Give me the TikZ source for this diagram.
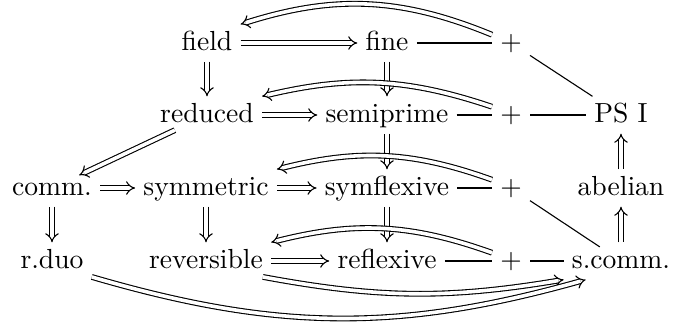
\documentclass[tikz,border=0pt]{standalone}
\usepackage{tikz}
\usetikzlibrary{arrows.meta}

\begin{document}
\begin{tikzpicture}[x=0.3623pt, y=-0.3623pt,
  every node/.style={inner sep=3pt, outer sep=0pt, text height=1.5ex, text depth=0.25ex},
  imp/.style={double, double distance=1.3pt, line width=0.4pt, -{Implies}},
  link/.style={line width=0.4pt}]
  \useasboundingbox (0,0) rectangle (674,326);

  % first row
  \node (field) at (207,43) {field};
  \node (fine) at (387,43) {fine};
  \node (plusA) at (511,43) {$+$};

  % second row
  \node (reduced) at (207,115) {reduced};
  \node (semiprime) at (387,115) {semiprime};
  \node (plusB) at (511,115) {$+$};
  \node (psi) at (621,115) {PS I};

  % third row
  \node (comm) at (52,188) {comm.};
  \node (symm) at (206,188) {symmetric};
  \node (symflex) at (387,188) {symflexive};
  \node (plusC) at (511,188) {$+$};
  \node (abelian) at (621,188) {abelian};

  % fourth row
  \node (rduo) at (52,261) {r.duo};
  \node (revers) at (206,261) {reversible};
  \node (reflex) at (387,261) {reflexive};
  \node (plusD) at (511,261) {$+$};
  \node (scomm) at (621,261) {s.comm.};

  % straight implications
  \draw[imp] (field) -- (fine);
  \draw[imp] (reduced) -- (semiprime);
  \draw[imp] (comm) -- (symm);
  \draw[imp] (symm) -- (symflex);
  \draw[imp] (revers) -- (reflex);
  \draw[imp] (field) -- (reduced);
  \draw[imp] (fine) -- (semiprime);
  \draw[imp] (semiprime) -- (symflex);
  \draw[imp] (symflex) -- (reflex);
  \draw[imp] (comm) -- (rduo);
  \draw[imp] (symm) -- (revers);
  \draw[imp] (abelian) -- (psi);
  \draw[imp] (scomm) -- (abelian);
  \draw[imp, shorten <=-3pt, shorten >=-5pt] (reduced) -- (comm);

  % the plus joins
  \draw[link] (fine) -- (plusA);
  \draw[link] (semiprime) -- (plusB);
  \draw[link] (plusB) -- (psi);
  \draw[link] (symflex) -- (plusC);
  \draw[link] (reflex) -- (plusD);
  \draw[link] (plusD) -- (scomm);
  \draw[link] (plusA) -- (psi);
  \draw[link, shorten >=-3pt] (plusC) -- (scomm);

  % back arrows from each plus
  \draw[imp] ([yshift=3pt]plusA.west) to[bend right=20] (field.north east);
  \draw[imp] ([yshift=3pt]plusB.west) to[bend right=16] (reduced.north east);
  \draw[imp] ([yshift=3pt]plusC.west) to[bend right=17] (symm.north east);
  \draw[imp] ([yshift=3pt]plusD.west) to[bend right=17] (revers.north east);

  % lower arcs into s.comm.
  \draw[imp] ([xshift=-3pt,yshift=1pt]revers.south east) to[bend right=10] (scomm.south west);
  \draw[imp] ([yshift=1pt]rduo.south east) to[bend right=16] ([xshift=8pt]scomm.south west);
\end{tikzpicture}
\end{document}
